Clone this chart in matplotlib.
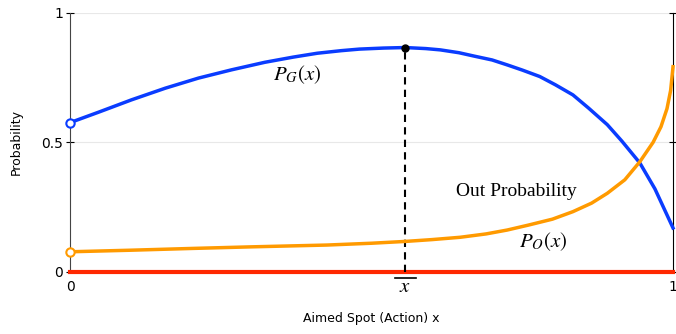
import matplotlib
matplotlib.use("Agg")
import matplotlib.pyplot as plt

# aimed spot vs probability of hitting the green / going out
x_green = [0, 0.047, 0.102, 0.158, 0.213, 0.268, 0.323, 0.370, 0.410, 0.450,
           0.480, 0.520, 0.556, 0.590, 0.614, 0.645, 0.670, 0.700, 0.725, 0.750,
           0.779, 0.805, 0.834, 0.860, 0.891, 0.915, 0.945, 0.970, 1.0]
p_green = [0.576, 0.616, 0.664, 0.709, 0.748, 0.780, 0.809, 0.829, 0.844, 0.854,
           0.860, 0.864, 0.866, 0.862, 0.857, 0.846, 0.833, 0.818, 0.799, 0.779,
           0.754, 0.722, 0.683, 0.632, 0.568, 0.505, 0.420, 0.320, 0.169]

x_out = [0, 0.1, 0.204, 0.30, 0.426, 0.50, 0.556, 0.60, 0.647, 0.690, 0.725,
         0.760, 0.800, 0.834, 0.865, 0.891, 0.920, 0.945, 0.967, 0.980, 0.990,
         0.996, 1.0]
p_out = [0.077, 0.083, 0.090, 0.096, 0.103, 0.110, 0.117, 0.124, 0.133, 0.146,
         0.161, 0.180, 0.203, 0.232, 0.265, 0.303, 0.355, 0.425, 0.500, 0.560,
         0.630, 0.700, 0.792]

x_best = 0.556
p_best = 0.866

plt.rcParams['mathtext.fontset'] = 'stix'

fig = plt.figure(figsize=(6.76, 3.34), dpi=100)
ax = fig.add_axes([0.1036, 0.1865, 0.892, 0.775])

blue = '#0a3cff'
orange = '#ff9a00'
red = '#ff2800'

ax.axhline(0.5, color='#e8e8e8', lw=0.8, zorder=0)
ax.axhline(1.0, color='#e8e8e8', lw=0.8, zorder=0)

ax.plot([0, 1], [0, 0], color=red, lw=3, clip_on=False, zorder=3)
ax.plot(x_green, p_green, color=blue, lw=2.5, clip_on=False, zorder=4,
        solid_joinstyle='round')
ax.plot(x_out, p_out, color=orange, lw=2.5, clip_on=False, zorder=4,
        solid_joinstyle='round')

ax.plot([0], [p_green[0]], 'o', ms=6, mfc='white', mec=blue, mew=1.5, clip_on=False, zorder=5)
ax.plot([0], [p_out[0]], 'o', ms=6, mfc='white', mec=orange, mew=1.5, clip_on=False, zorder=5)

ax.plot([x_best, x_best], [0, p_best], color='black', lw=1.5, ls=(0, (3.5, 2.5)), zorder=3)
ax.plot([x_best], [p_best], 'o', ms=5, color='black', zorder=6)

ax.text(0.376, 0.76, r'$P_G(x)$', fontsize=15, ha='center', va='center')
ax.text(0.741, 0.308, 'Out Probability', fontsize=14, family='Liberation Serif',
        ha='center', va='center')
ax.text(0.784, 0.118, r'$P_O(x)$', fontsize=15, ha='center', va='center')

# x-bar marker under the axis
ax.text(x_best, -0.015, r'$x$', fontsize=15, ha='center', va='top')
ax.plot([x_best - 0.017, x_best + 0.017], [-0.025, -0.025], color='black', lw=1.2,
        clip_on=False)

ax.set_xlim(0, 1)
ax.set_ylim(0, 1)
ax.set_xticks([0, 1])
ax.set_xticklabels(['0', '1'])
ax.set_yticks([0, 0.5, 1])
ax.set_yticklabels(['0', '0.5', '1'])
ax.tick_params(axis='x', length=0, labelsize=10, pad=6)
ax.tick_params(axis='y', direction='inout', length=6, width=0.8, labelsize=10,
               right=True, pad=2)

for side in ['top', 'bottom']:
    ax.spines[side].set_visible(False)
ax.spines['left'].set_color('#444444')
ax.spines['right'].set_color('black')

ax.set_xlabel('Aimed Spot (Action) x', fontsize=9, labelpad=13)
ax.set_ylabel('Probability', fontsize=9, labelpad=13)

fig.savefig('out.png', dpi=100)
